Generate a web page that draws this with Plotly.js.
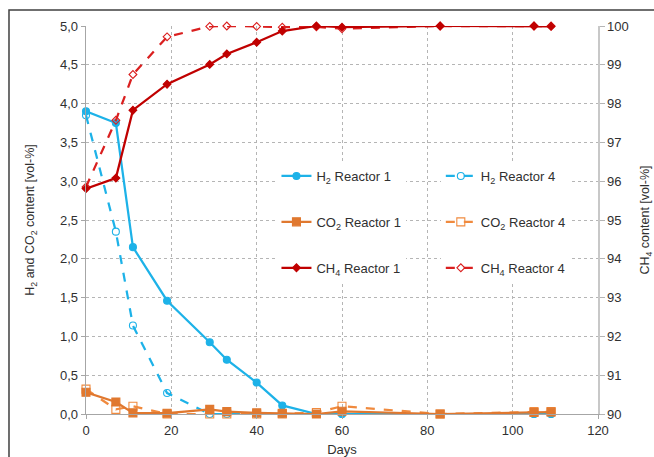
<!DOCTYPE html>
<html>
<head>
<meta charset="utf-8">
<script src="https://cdn.plot.ly/plotly-3.0.1.min.js"></script>
<style>
html,body{margin:0;padding:0;background:#fff;}
#chart{width:654px;height:457px;}
</style>
</head>
<body>
<div id="chart"></div>
<script>
const days = [0, 7, 11, 19, 29, 33, 40, 46, 54, 60, 83, 105, 109];
const h2R1 = [3.90, 3.75, 2.15, 1.46, 0.925, 0.70, 0.405, 0.11, 0.0, 0.0, 0.0, 0.0, 0.0];
const h2R4 = [3.85, 2.35, 1.14, 0.27, 0.0, 0.0, 0.0, 0.0, 0.0, 0.0, 0.0, 0.0, 0.0];
const co2R1 = [0.28, 0.155, 0.015, 0.01, 0.06, 0.03, 0.015, 0.01, 0.0, 0.035, 0.0, 0.02, 0.025];
const co2R4 = [0.32, 0.06, 0.10, 0.0, 0.0, 0.0, 0.0, 0.0, 0.02, 0.10, 0.0, 0.03, 0.03];
const ch4R1 = [95.81, 96.08, 97.83, 98.50, 99.01, 99.28, 99.58, 99.87, 100.0, 99.97, 100.0, 100.0, 99.99];
const ch4R4 = [95.85, 97.57, 98.75, 99.72, 99.99, 100.0, 99.99, 99.97, 99.98, 99.93, 100.0, 100.0, 100.0];

const leftTicks = [0, 0.5, 1, 1.5, 2, 2.5, 3, 3.5, 4, 4.5, 5];
const rightTicks = [90, 91, 92, 93, 94, 95, 96, 97, 98, 99, 100];
const xTicks = [0, 20, 40, 60, 80, 100, 120];

const blue = '#1DB2E8', orange1 = '#E0782F', orange4 = '#F08A3E', red1 = '#C00000', red4 = '#DA1F1F';
const FONT = 'Liberation Sans, Arial, sans-serif';

function tr(name, y, color, dash, symbol, size, legend, group, yaxis) {
  return {
    x: days, y: y, name: name, type: 'scatter', mode: 'lines+markers',
    line: {color: color, width: 2.25, dash: dash},
    marker: {color: color, symbol: symbol, size: size, line: {color: color, width: 1.1}},
    legend: legend, legendgroup: group, yaxis: yaxis, cliponaxis: false
  };
}

const data = [
  tr('H<sub>2</sub> Reactor 4', h2R4, blue, 'dash', 'circle-open', 7, 'legend2', 'g4', 'y'),
  tr('H<sub>2</sub> Reactor 1', h2R1, blue, 'solid', 'circle', 7, 'legend', 'g1', 'y'),
  tr('CO<sub>2</sub> Reactor 4', co2R4, orange4, 'dash', 'square-open', 8, 'legend2', 'g5', 'y'),
  tr('CO<sub>2</sub> Reactor 1', co2R1, orange1, 'solid', 'square', 8, 'legend', 'g2', 'y'),
  tr('CH<sub>4</sub> Reactor 4', ch4R4, red4, 'dash', 'diamond-open', 6, 'legend2', 'g6', 'y2'),
  tr('CH<sub>4</sub> Reactor 1', ch4R1, red1, 'solid', 'diamond', 6, 'legend', 'g3', 'y2')
];

const legendBase = {
  orientation: 'v', traceorder: 'grouped', tracegroupgap: 26,
  bgcolor: '#ffffff', borderwidth: 0, font: {family: FONT, size: 13, color: '#303030'},
  xanchor: 'left', yanchor: 'top', itemwidth: 30
};

const layout = {
  width: 654, height: 457,
  margin: {l: 86, r: 56, t: 26, b: 43},
  paper_bgcolor: '#ffffff', plot_bgcolor: '#ffffff',
  separators: ', ',
  font: {family: FONT, size: 13, color: '#303030'},
  showlegend: true,
  legend: Object.assign({}, legendBase, {x: 0.372, y: 0.652}),
  legend2: Object.assign({}, legendBase, {x: 0.693, y: 0.652}),
  xaxis: {
    range: [0, 120], tickvals: xTicks, ticktext: xTicks.map(String),
    showgrid: true, gridcolor: '#b5b5b5', griddash: '3px,3px', gridwidth: 1,
    showline: true, linecolor: '#a6a6a6', linewidth: 1.3,
    ticks: 'outside', ticklen: 4, tickcolor: '#a6a6a6',
    zeroline: false, tickfont: {family: FONT, size: 13, color: '#303030'},
    title: {text: 'Days', font: {family: FONT, size: 13, color: '#303030'}, standoff: 8}
  },
  yaxis: {
    range: [0, 5], tickvals: leftTicks, tickformat: '.1f',
    showgrid: true, gridcolor: '#b5b5b5', griddash: '3px,3px', gridwidth: 1,
    showline: true, linecolor: '#a6a6a6', linewidth: 1.3,
    ticks: 'outside', ticklen: 4, tickcolor: '#a6a6a6',
    zeroline: false, tickfont: {family: FONT, size: 13, color: '#303030'},
    title: {text: 'H<sub>2</sub> and CO<sub>2</sub> content [vol-%]', font: {family: FONT, size: 12.5, color: '#303030'}, standoff: 22}
  },
  yaxis2: {
    range: [90, 100], tickvals: rightTicks, overlaying: 'y', side: 'right',
    showgrid: false, showline: true, linecolor: '#c8c8c8', linewidth: 1.5,
    ticks: 'outside', ticklen: 5, tickcolor: '#b5b5b5',
    zeroline: false, tickfont: {family: FONT, size: 13, color: '#303030'},
    title: {text: 'CH<sub>4</sub> content [vol-%]', font: {family: FONT, size: 12.5, color: '#303030'}, standoff: 14}
  },
  shapes: [{
    type: 'rect', xref: 'paper', yref: 'paper',
    x0: -0.1504, x1: 1.3, y0: -0.3, y1: 1.0412,
    line: {color: '#404040', width: 1.5}, fillcolor: 'rgba(0,0,0,0)', layer: 'below'
  }]
};

Plotly.newPlot('chart', data, layout, {displayModeBar: false, staticPlot: true});
</script>
</body>
</html>
